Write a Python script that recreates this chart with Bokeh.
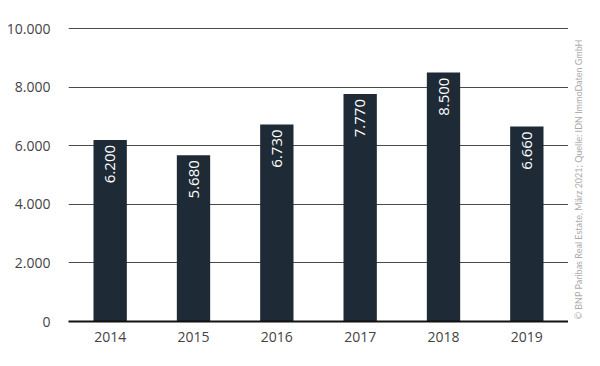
import math
from bokeh.plotting import figure
from bokeh.layouts import row
from bokeh.models import (ColumnDataSource, Label, FixedTicker,
                          CustomJSTickFormatter, Range1d)
from bokeh.core.properties import value
from bokeh.embed import file_html
from bokeh.resources import INLINE

years = ["2014", "2015", "2016", "2017", "2018", "2019"]
values = [6200, 5680, 6730, 7770, 8500, 6660]
labels = ["6.200", "5.680", "6.730", "7.770", "8.500", "6.660"]
y_ticks = [0, 2000, 4000, 6000, 8000, 10000]
source_text = "© BNP Paribas Real Estate, März 2021; Quelle: IDN ImmoDaten GmbH"

src = ColumnDataSource(dict(x=years, top=values, lab=labels))

p = figure(x_range=years, y_range=Range1d(0, 10040), width=568, height=350,
           output_backend="svg", toolbar_location=None,
           min_border_left=68, min_border_right=0, min_border_top=27, min_border_bottom=29)
p.outline_line_color = None
p.background_fill_color = "white"

p.vbar(x="x", top="top", width=0.4, source=src, color="#1e2a35", line_color=None)
p.text(x="x", y="top", text="lab", source=src, angle=math.pi / 2,
       text_align="right", text_baseline="middle", y_offset=5,
       text_color="white", text_font=value("Open Sans"), text_font_size="15px")

p.xgrid.grid_line_color = None
p.ygrid.grid_line_color = "#4a4a4a"
p.ygrid.grid_line_width = 1
p.ygrid.ticker = FixedTicker(ticks=y_ticks[1:])

p.yaxis.ticker = FixedTicker(ticks=y_ticks)
p.yaxis.formatter = CustomJSTickFormatter(code="return tick.toLocaleString('de-DE');")
p.yaxis.axis_line_color = None
p.yaxis.major_tick_line_color = None
p.yaxis.minor_tick_line_color = None
p.yaxis.major_label_text_font = "Open Sans"
p.yaxis.major_label_text_font_size = "14px"
p.yaxis.major_label_text_color = "#444444"
p.yaxis.major_label_standoff = 12

p.xaxis.axis_line_color = "#111111"
p.xaxis.axis_line_width = 2
p.xaxis.major_tick_line_color = None
p.xaxis.minor_tick_line_color = None
p.xaxis.major_label_text_font = "Open Sans"
p.xaxis.major_label_text_font_size = "14px"
p.xaxis.major_label_text_color = "#444444"
p.xaxis.major_label_standoff = 4

# narrow side panel carrying the vertical source note
p2 = figure(width=16, height=350, x_range=Range1d(0, 1), y_range=Range1d(0, 1),
            output_backend="svg", toolbar_location=None,
            x_axis_type=None, y_axis_type=None,
            min_border_left=0, min_border_right=0, min_border_top=0, min_border_bottom=0)
p2.outline_line_color = None
p2.xgrid.grid_line_color = None
p2.ygrid.grid_line_color = None
p2.add_layout(Label(x=10, y=2, x_units="screen", y_units="screen", text=source_text,
                    angle=math.pi / 2, text_font="Lato", text_font_size="9px",
                    text_color="#aaaaaa", text_align="left", text_baseline="middle"))

layout = row(p, p2)
open("out.html", "w").write(file_html(layout, INLINE))
